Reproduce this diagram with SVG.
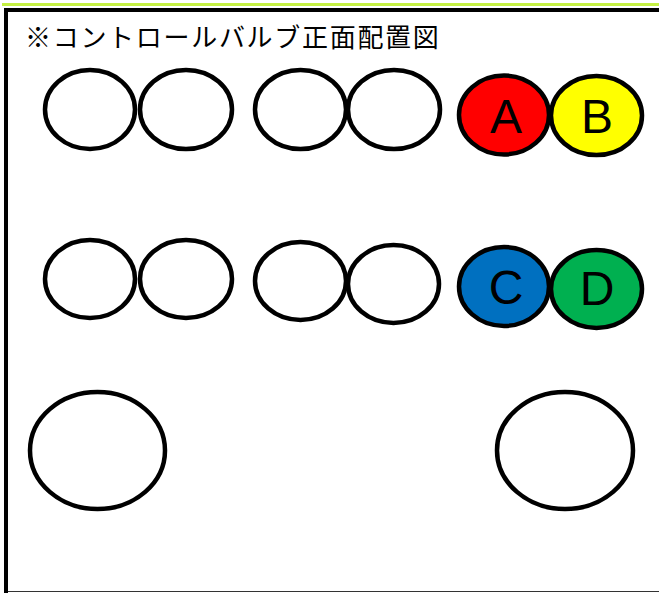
<svg xmlns="http://www.w3.org/2000/svg" width="659" height="593" viewBox="0 0 659 593">
<style>
.v{stroke:#000;stroke-width:4.5}
.w{fill:#fff}
.lbl{font-family:"Liberation Sans",Arial,sans-serif;font-size:48px;fill:#000;text-anchor:middle}
.ttl{font-family:"Noto Sans CJK JP","Noto Sans CJK SC",sans-serif;font-size:26px;fill:#000;letter-spacing:1.7px}
</style>
<rect x="0" y="0" width="659" height="593" fill="#fff"/>
<g id="frame">
<rect x="2" y="3" width="657" height="3" fill="#c4f042"/>
<rect x="4" y="8" width="655" height="4" fill="#000"/>
<rect x="4" y="8" width="4" height="585" fill="#000"/>
<line x1="8" y1="591.5" x2="659" y2="591.5" stroke="#333" stroke-width="1"/>
</g>
<g id="title"><text class="ttl" x="25" y="47">※コントロールバルブ正面配置図</text></g>
<g id="connectors"></g>
<g id="v1"><ellipse class="v w" cx="90" cy="109.5" rx="45" ry="39.5"/></g>
<g id="v2"><ellipse class="v w" cx="186" cy="109.5" rx="46" ry="39.5"/></g>
<g id="v3"><ellipse class="v w" cx="300.5" cy="109.5" rx="45.5" ry="39.5"/></g>
<g id="v4"><ellipse class="v w" cx="394" cy="109.5" rx="46" ry="39.5"/></g>
<g id="vA"><ellipse class="v" fill="#ff0000" cx="504" cy="115" rx="45" ry="39.5"/><text class="lbl" x="506" y="133">A</text></g>
<g id="vB"><ellipse class="v" fill="#ffff00" cx="596.5" cy="115.5" rx="45.5" ry="39.5"/><text class="lbl" x="597" y="133">B</text></g>
<g id="v5"><ellipse class="v w" cx="90" cy="279" rx="45" ry="39"/></g>
<g id="v6"><ellipse class="v w" cx="186" cy="279" rx="46" ry="39"/></g>
<g id="v7"><ellipse class="v w" cx="300.5" cy="281" rx="45.5" ry="39"/></g>
<g id="v8"><ellipse class="v w" cx="393.5" cy="284" rx="45.5" ry="39"/></g>
<g id="vC"><ellipse class="v" fill="#0070c0" cx="504" cy="286.5" rx="45" ry="39.5"/><text class="lbl" x="506" y="304">C</text></g>
<g id="vD"><ellipse class="v" fill="#00b050" cx="596.5" cy="289" rx="45.5" ry="39"/><text class="lbl" x="597" y="305">D</text></g>
<g id="v9"><ellipse class="v w" cx="97.5" cy="450.5" rx="67.5" ry="58.5"/></g>
<g id="v10"><ellipse class="v w" cx="565" cy="450.5" rx="68" ry="58.5"/></g>
</svg>
